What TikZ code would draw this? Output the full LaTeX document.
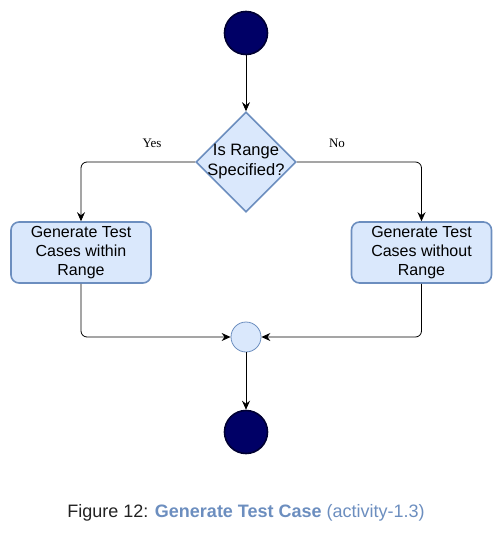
\documentclass[tikz,border=0pt]{standalone}
\usepackage{fontspec}
\setmainfont{Liberation Sans}
\newfontfamily\labelfont{Liberation Serif}
\usetikzlibrary{shapes.geometric,arrows.meta}
\definecolor{boxfill}{HTML}{DAE8FC}
\definecolor{boxline}{HTML}{6C8EBF}
\definecolor{termfill}{HTML}{000066}
\definecolor{termline}{HTML}{000033}
\definecolor{captiongray}{HTML}{222222}
\tikzset{
  terminal/.style={circle,fill=termfill,draw=termline,line width=1.6pt,minimum size=43pt,inner sep=0pt},
  mergenode/.style={circle,fill=boxfill,draw=boxline,line width=0.8pt,minimum size=30pt,inner sep=0pt},
  decision/.style={diamond,aspect=1,fill=boxfill,draw=boxline,line width=1.6pt,minimum size=100pt,inner sep=0pt},
  decisiontext/.style={font=\fontsize{16.5}{20}\selectfont,align=center},
  actionbox/.style={rectangle,rounded corners=8pt,fill=boxfill,draw=boxline,line width=1.6pt,minimum width=140pt,minimum height=61pt,inner sep=1pt,font=\fontsize{16}{19}\selectfont,align=center},
  flow/.style={draw=black,line width=0.8pt,-{Stealth[length=9pt,width=8pt,inset=3pt]},rounded corners=6pt},
  branchlabel/.style={font=\labelfont\fontsize{13}{14}\selectfont}
}
\begin{document}
\begin{tikzpicture}[x=1pt,y=-1pt]
  \useasboundingbox (0,0) rectangle (502,538);
  \node[terminal] (start) at (246,33) {};
  \node[decision,label={[decisiontext]center:Is Range\\Specified?}] (check) at (246,162) {};
  \node[actionbox] (within) at (81,252.5) {Generate Test\\Cases within\\Range};
  \node[actionbox] (without) at (421.5,252.5) {Generate Test\\Cases without\\Range};
  \node[mergenode] (merge) at (246,337) {};
  \node[terminal] (finish) at (246,432) {};

  \draw[flow] (start) -- (check);
  \draw[flow] (check.west) -| (within.north);
  \draw[flow] (check.east) -| (without.north);
  \draw[flow] (within.south) |- (merge.west);
  \draw[flow] (without.south) |- (merge.east);
  \draw[flow] (merge) -- (finish);

  \node[branchlabel] (yes) at (152,143) {Yes};
  \node[branchlabel] (no) at (337,143) {No};

  \node[font=\fontsize{18}{20}\selectfont] (caption) at (246,513)
    {\textcolor{captiongray}{Figure 12:} \textcolor{boxline}{\textbf{Generate Test Case} (activity-1.3)}};
\end{tikzpicture}
\end{document}
